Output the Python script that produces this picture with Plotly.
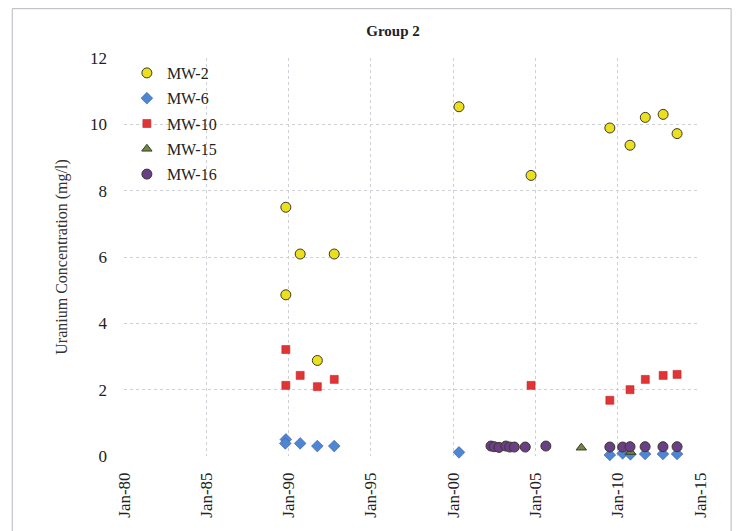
import plotly.graph_objects as go

# Sampling dates and uranium results (mg/l) per monitoring well
mw2_dates = ["1989-11-01", "1989-11-01", "1990-09-15", "1991-10-01", "1992-10-10",
             "2000-05-10", "2004-09-25", "2009-07-10", "2010-10-01", "2011-09-05",
             "2012-10-05", "2013-08-10"]
mw2_vals = [7.50, 4.86, 6.09, 2.88, 6.09, 10.53, 8.46, 9.89, 9.37, 10.21, 10.30, 9.72]

mw6_dates = ["1989-11-01", "1989-10-20", "1990-09-15", "1991-10-01", "1992-10-10",
             "2000-05-10", "2009-07-10", "2010-04-20", "2010-10-10", "2011-09-01",
             "2012-10-01", "2013-08-10"]
mw6_vals = [0.50, 0.38, 0.38, 0.30, 0.30, 0.11, 0.03, 0.08, 0.05, 0.06, 0.06, 0.06]

mw10_dates = ["1989-11-01", "1989-11-01", "1990-09-15", "1991-10-01", "1992-10-10",
              "2004-09-25", "2009-07-10", "2010-10-01", "2011-09-05", "2012-10-05",
              "2013-08-10"]
mw10_vals = [3.21, 2.13, 2.43, 2.09, 2.31, 2.13, 1.68, 2.00, 2.31, 2.43, 2.46]

mw15_dates = ["2007-10-15", "2010-10-15"]
mw15_vals = [0.25, 0.12]

mw16_dates = ["2002-04-20", "2002-06-30", "2002-10-15", "2003-03-15", "2003-06-10",
              "2003-09-20", "2004-05-20", "2005-08-20", "2009-07-10", "2010-04-20",
              "2010-10-01", "2011-09-01", "2012-10-01", "2013-08-10"]
mw16_vals = [0.30, 0.28, 0.26, 0.30, 0.27, 0.27, 0.27, 0.30, 0.27, 0.27, 0.28, 0.28,
             0.28, 0.28]

x_ticks = ["1980-01-01", "1985-01-01", "1990-01-01", "1995-01-01", "2000-01-01",
           "2005-01-01", "2010-01-01", "2015-01-01"]
x_tick_text = ["Jan-80", "Jan-85", "Jan-90", "Jan-95", "Jan-00", "Jan-05", "Jan-10", "Jan-15"]
y_ticks = [0, 2, 4, 6, 8, 10, 12]

SERIF = "Liberation Serif"
INK = "#222222"
OUTLINE = dict(color="#3a3a2a", width=1)

series = [
    ("MW-2", mw2_dates, mw2_vals, dict(symbol="circle", size=10, color="#ecdf1e", line=OUTLINE)),
    ("MW-6", mw6_dates, mw6_vals, dict(symbol="diamond", size=9, color="#4f86d4",
                                       line=dict(color="#3a5a9a", width=0.6))),
    ("MW-10", mw10_dates, mw10_vals, dict(symbol="square", size=8, color="#e23434",
                                          line=dict(color="#c02828", width=0.6))),
    ("MW-15", mw15_dates, mw15_vals, dict(symbol="triangle-up", size=9, color="#6f8a3c",
                                          line=OUTLINE)),
    ("MW-16", mw16_dates, mw16_vals, dict(symbol="circle", size=10, color="#6a3f86",
                                          line=OUTLINE)),
]

fig = go.Figure()
for i, (name, xs, ys, mk) in enumerate(series):
    fig.add_trace(go.Scatter(x=xs, y=ys, mode="markers", name=name, marker=mk,
                             legendgroup=f"g{i}", cliponaxis=False))

grid = dict(showgrid=True, gridcolor="#cfcfd6", griddash="dot", gridwidth=1)

fig.update_layout(
    width=737, height=531,
    margin=dict(l=124, r=37, t=58, b=75),
    paper_bgcolor="white", plot_bgcolor="white",
    font=dict(family=SERIF, color=INK),
    showlegend=True,
    title=dict(text="<b>Group 2</b>", x=0.467, xref="paper", xanchor="center",
               y=0.943, yanchor="middle", font=dict(family=SERIF, size=15, color=INK)),
    legend=dict(x=0.005, y=1.005, xanchor="left", yanchor="top",
                font=dict(family=SERIF, size=16, color=INK),
                tracegroupgap=1.5, bgcolor="rgba(0,0,0,0)", itemwidth=30),
    xaxis=dict(type="date", range=["1980-01-01", "2015-01-01"],
               tickmode="array", tickvals=x_ticks, ticktext=x_tick_text,
               tickangle=-90, tickfont=dict(family=SERIF, size=17, color=INK),
               ticklabelstandoff=12,
               showline=False, zeroline=False, ticks="", **grid),
    yaxis=dict(range=[0, 12], tickmode="array", tickvals=y_ticks,
               tickfont=dict(family=SERIF, size=17, color=INK),
               ticklabelstandoff=16,
               title=dict(text="Uranium Concentration (mg/l)", standoff=18,
                          font=dict(family=SERIF, size=16, color="#333333")),
               showline=False, zeroline=False, ticks="", **grid),
)

# chart-area frame
fig.add_shape(type="rect", xref="paper", yref="paper",
              x0=-0.194, x1=1.054, y0=-0.22, y1=1.124,
              line=dict(color="#b8b8c0", width=1), fillcolor="rgba(0,0,0,0)", layer="below")

fig.write_html("out.html")
